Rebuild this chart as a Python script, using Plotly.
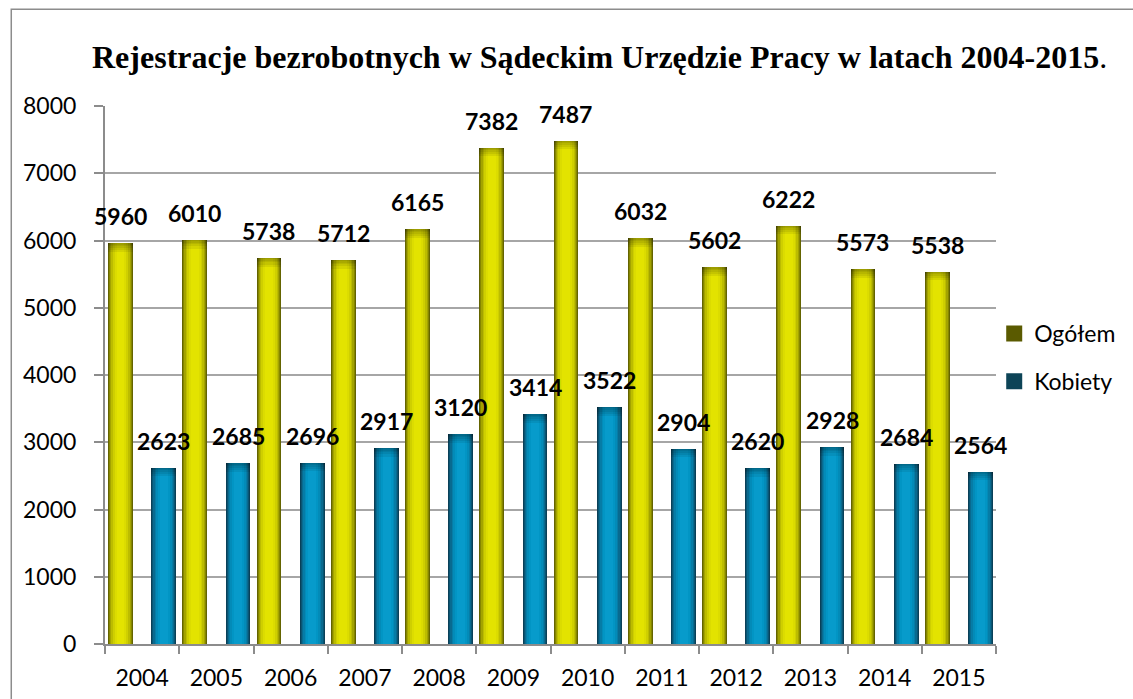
import plotly.graph_objects as go

years = ["2004", "2005", "2006", "2007", "2008", "2009", "2010", "2011", "2012", "2013", "2014", "2015"]
ogolem = [5960, 6010, 5738, 5712, 6165, 7382, 7487, 6032, 5602, 6222, 5573, 5538]
kobiety = [2623, 2685, 2696, 2917, 3120, 3414, 3522, 2904, 2620, 2928, 2684, 2564]
series_names = ["Ogółem", "Kobiety"]
title_text = "<b>Rejestracje bezrobotnych w Sądeckim Urzędzie Pracy w latach 2004-2015</b>."

BAR_W = 0.333
OFFSETS = [-0.458, 0.126]
# cylinder shading layers: (fraction of width, colour)
yellow_layers = [(1.00, "#646400"), (0.92, "#858500"), (0.84, "#a3a300"), (0.74, "#bcbc00"),
                 (0.62, "#cfcf00"), (0.48, "#dcdc00"), (0.32, "#e3e300")]
blue_layers = [(1.00, "#0a4058"), (0.92, "#0a5573"), (0.84, "#096a8f"), (0.74, "#067ca6"),
               (0.62, "#038bb8"), (0.48, "#0295c4"), (0.32, "#079bcb")]
legend_colors = ["#5a5a00", "#0d4457"]

fig = go.Figure()
for values, layers, off in [(ogolem, yellow_layers, OFFSETS[0]), (kobiety, blue_layers, OFFSETS[1])]:
    for frac, col in layers:
        w = BAR_W * frac
        fig.add_trace(go.Bar(
            x=years, y=values, width=[w] * len(years),
            offset=[off + (BAR_W - w) / 2] * len(years),
            marker=dict(color=col, line=dict(width=0)),
            showlegend=False, hoverinfo="skip"))
    # darker top bevel (soft gradient)
    for h in [130, 95, 65, 40, 20]:
        fig.add_trace(go.Bar(
            x=years, y=[h] * len(years), base=[v - h for v in values],
            width=[BAR_W] * len(years), offset=[off] * len(years),
            marker=dict(color="rgba(0,0,0,0.07)", line=dict(width=0)),
            showlegend=False, hoverinfo="skip"))

for name, col, grp in zip(series_names, legend_colors, ["a", "b"]):
    fig.add_trace(go.Scatter(
        x=[None], y=[None], mode="markers", name=name, legendgroup=grp,
        marker=dict(symbol="square", size=16, color=col)))

annotations = []
for values, off in [(ogolem, OFFSETS[0]), (kobiety, OFFSETS[1])]:
    for i, v in enumerate(values):
        annotations.append(dict(
            x=i + off + BAR_W / 2, y=v, xref="x", yref="y", text=str(v),
            showarrow=False, yanchor="middle", yshift=27,
            font=dict(family="Lato", size=23, color="#000000", weight="bold")))

fig.update_layout(
    width=1133, height=699,
    barmode="overlay", bargap=0,
    paper_bgcolor="white", plot_bgcolor="white",
    margin=dict(l=105, r=125, t=106, b=55),
    title=dict(text=title_text, x=92 / 1133, xanchor="left", xref="container",
               y=1 - 57 / 699, yanchor="middle", yref="container",
               font=dict(family="Liberation Serif", size=32, color="#000000")),
    font=dict(family="Lato", size=23, color="#000000"),
    legend=dict(x=0.998, xanchor="left", y=0.5325, yanchor="middle",
                tracegroupgap=15, traceorder="grouped", itemsizing="trace",
                font=dict(family="Lato", size=23, color="#000000"),
                bgcolor="rgba(0,0,0,0)"),
    annotations=annotations,
    shapes=[dict(type="rect", xref="paper", yref="paper",
                 x0=-0.1052, x1=1.3, y0=-0.3, y1=1.180,
                 line=dict(color="#8c8c8c", width=1.5), layer="below")],
    xaxis=dict(type="category", range=[-0.5, 11.5], showgrid=False, automargin=False,
               showline=True, linecolor="#8c8c8c", linewidth=2,
               ticks="outside", ticklen=8, tickwidth=2, tickcolor="#8c8c8c",
               tickson="boundaries", ticklabelstandoff=12,
               tickfont=dict(family="Lato", size=23, color="#000000")),
    yaxis=dict(range=[0, 8000], dtick=1000, showgrid=True, gridcolor="#a6a6a6", gridwidth=1.5,
               automargin=False,
               zeroline=False, showline=True, linecolor="#8c8c8c", linewidth=2,
               ticks="outside", ticklen=9, tickwidth=2, tickcolor="#8c8c8c",
               ticklabelstandoff=13,
               tickfont=dict(family="Lato", size=23, color="#000000")),
)

fig.write_html("out.html", config={"displayModeBar": False},
               post_script="document.body.style.margin='0';document.body.style.overflow='hidden';")
